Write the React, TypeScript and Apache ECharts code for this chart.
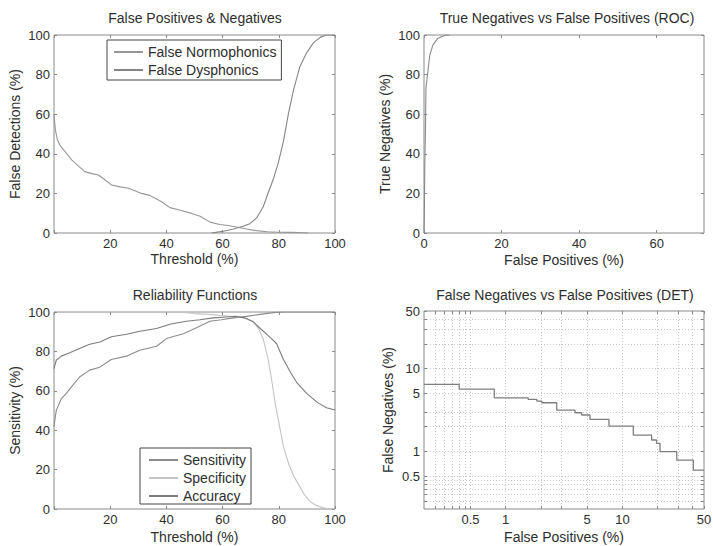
import React, { useEffect, useRef } from 'react';
import * as echarts from 'echarts';

// ---------- Data ----------
// Top-left: False Positives & Negatives vs threshold
const thrFN = [0, 0.5, 1.2, 2.1, 4, 6.3, 8.5, 11, 13.5, 15.8, 18, 20.5, 23.5, 26.5, 31.2, 34, 36, 38.3, 40, 41.3, 45, 49, 52, 55.5, 59, 62, 65, 68.5, 72, 76, 80, 85, 90.5];
const falseNormophonics = [60, 52, 47, 44.4, 41, 36.9, 34, 31, 30, 29.3, 27, 24.2, 23.3, 22.6, 20, 19, 17.5, 15.8, 14, 12.8, 11.5, 9.9, 8.5, 5.5, 4.3, 3.8, 3, 2, 1.2, 0.6, 0.4, 0.3, 0];
const thrFD = [56, 60, 63.8, 67.3, 69.7, 72.1, 74.5, 76.2, 78, 79.8, 81.6, 83.4, 85.2, 87.5, 89.9, 92.3, 94.7, 97, 100];
const falseDysphonics = [0, 0.8, 2, 3.4, 4.7, 7.6, 13.4, 20.2, 27, 35.3, 46, 60, 72, 84, 91, 96, 98.8, 100, 100];

// Top-right: ROC
const rocFP = [0, 0.1, 0.2, 0.4, 0.5, 1.0, 1.5, 2.3, 3.6, 5.3, 6.6];
const rocTN = [0, 10, 33, 55, 73, 81.5, 90, 95, 98.4, 99.8, 100];

// Bottom-left: Reliability functions
const thrSens = [0, 0.8, 2.6, 4.4, 6.2, 9.1, 12.7, 16.3, 20.4, 25.8, 30.5, 36.5, 40, 46, 50.7, 55.5, 59.6, 63.8, 68.5, 73.3, 78, 82, 100];
const sensitivity = [41.8, 50, 56, 58.7, 62, 67, 70.5, 72, 75.9, 77.6, 80.6, 82.6, 86.5, 89, 92, 95.3, 96.1, 97, 97.8, 98.8, 99.7, 100, 100];
const thrSpec = [44, 50, 55, 60, 65, 68.5, 71, 73, 74.5, 76, 77.3, 78.8, 80, 81.6, 83.5, 85.2, 87, 89, 91, 93, 95.5, 98, 100];
const specificity = [100, 99.2, 98.8, 98.2, 97.5, 96.8, 95, 91, 86, 77.5, 67, 53, 44, 32, 23, 17, 12.5, 7.5, 4, 2, 0.7, 0, 0];
const thrAcc = [0, 0.8, 2.6, 5.6, 9.1, 12.7, 16.3, 20.4, 25.8, 30.5, 36.5, 41.2, 47.1, 51.9, 56.7, 61.4, 64.5, 67.9, 70.9, 73.5, 77, 79.2, 81.6, 84.3, 86.5, 89.9, 93.8, 97, 100];
const accuracy = [71.3, 75.5, 77.6, 79.3, 81.5, 83.6, 84.8, 87.4, 88.7, 90.2, 91.6, 93.8, 95.3, 96.1, 97, 97.5, 97.8, 97, 95, 91.5, 87, 84, 76, 69, 64, 58.7, 54, 51.4, 50.3];

// Bottom-right: DET (step curve)
const detFP = [0.2, 0.4, 0.8, 1.56, 1.85, 2.04, 2.74, 3.93, 4.48, 5.28, 7.67, 12.4, 17.8, 19.6, 21.0, 29.2, 40.5, 50];
const detFN = [6.47, 5.66, 4.44, 4.26, 4.06, 3.87, 3.16, 2.93, 2.75, 2.44, 2.02, 1.57, 1.37, 1.25, 0.99, 0.78, 0.59, 0.59];

// Tick labels
const linTicks = [0, 20, 40, 60, 80, 100];
const thrLabels = [20, 40, 60, 80, 100];
const rocXTicks = [0, 20, 40, 60];
const detLabels = [0.5, 1, 5, 10, 50];
const detGridVals = [0.25, 0.3, 0.35, 0.4, 0.45, 0.5, 1, 2, 3, 5, 10, 20, 30, 40, 50];

// ---------- Styles ----------
const FONT = "'Liberation Sans', Arial, Helvetica, sans-serif";
const TEXT = '#2e2e2e';
const FRAME = '#8a8a8a';

const zip = (xs: number[], ys: number[]) => xs.map((x, i) => [x, ys[i]]);
const lg = (v: number) => Math.log10(v);

const nameStyle = { fontSize: 14, color: TEXT, fontFamily: FONT };
const labelStyle = { color: TEXT, fontSize: 13, fontFamily: FONT, margin: 4 };

function axis(
  kind: 'x' | 'y',
  gridIndex: number,
  mirror: boolean,
  min: number,
  max: number,
  ticks: number[],
  labels: number[] | null,
  name: string,
  nameGap: number,
  formatter?: (v: number) => string,
  grid?: boolean
) {
  const position = kind === 'x' ? (mirror ? 'top' : 'bottom') : (mirror ? 'right' : 'left');
  const a: any = {
    type: 'value',
    gridIndex,
    position,
    min,
    max,
    axisLine: { show: false, onZero: false },
    axisTick: { show: true, inside: true, length: 3, customValues: ticks, lineStyle: { color: FRAME, width: 1 } },
    axisLabel: mirror || !labels
      ? { show: false }
      : { show: true, customValues: labels, ...labelStyle, ...(formatter ? { formatter } : {}) },
    splitLine: grid && !mirror
      ? { show: true, lineStyle: { color: '#c6c6c6', width: 1, type: [1, 2] } }
      : { show: false },
    nameMoveOverlap: false,
  };
  if (!mirror && name) {
    a.name = name;
    a.nameLocation = 'middle';
    a.nameGap = nameGap;
    a.nameTextStyle = nameStyle;
  }
  return a;
}

const detFmt = (v: number) => String(Number(Math.pow(10, v).toPrecision(2)));

const grids = [
  { left: 54, top: 35, width: 281, height: 198 },
  { left: 424, top: 35, width: 280, height: 198 },
  { left: 54, top: 312, width: 281, height: 197 },
  { left: 424, top: 311, width: 280, height: 198 },
].map((g) => ({ ...g, show: true, borderColor: FRAME, borderWidth: 1, backgroundColor: 'transparent', containLabel: false, outerBoundsMode: 'none' }));

const detMin = lg(0.2);
const detMax = lg(50);
const detTicks = detGridVals.map(lg);
const detLab = detLabels.map(lg);

const xAxes = [
  axis('x', 0, false, 0, 100, linTicks, thrLabels, 'Threshold (%)', 19),
  axis('x', 1, false, 0, 72.2, rocXTicks, rocXTicks, 'False Positives (%)', 20),
  axis('x', 2, false, 0, 100, linTicks, thrLabels, 'Threshold (%)', 21),
  axis('x', 3, false, detMin, detMax, detTicks, detLab, 'False Positives (%)', 21, detFmt, true),
  axis('x', 0, true, 0, 100, linTicks, null, '', 0),
  axis('x', 1, true, 0, 72.2, rocXTicks, null, '', 0),
  axis('x', 2, true, 0, 100, linTicks, null, '', 0),
  axis('x', 3, true, detMin, detMax, detTicks, null, '', 0),
];
const yAxes = [
  axis('y', 0, false, 0, 100, linTicks, linTicks, 'False Detections (%)', 32),
  axis('y', 1, false, 0, 100, linTicks, linTicks, 'True Negatives (%)', 32),
  axis('y', 2, false, 0, 100, linTicks, linTicks, 'Sensitivity (%)', 32),
  axis('y', 3, false, detMin, detMax, detTicks, detLab, 'False Negatives (%)', 29, detFmt, true),
  axis('y', 0, true, 0, 100, linTicks, null, '', 0),
  axis('y', 1, true, 0, 100, linTicks, null, '', 0),
  axis('y', 2, true, 0, 100, linTicks, null, '', 0),
  axis('y', 3, true, detMin, detMax, detTicks, null, '', 0),
];

const titleStyle = { fontSize: 14, fontWeight: 'normal', color: TEXT, fontFamily: FONT };
const titles = [
  { text: 'False Positives & Negatives', left: 195, top: 11 },
  { text: 'True Negatives vs False Positives (ROC)', left: 567, top: 11 },
  { text: 'Reliability Functions', left: 195, top: 288 },
  { text: 'False Negatives vs False Positives (DET)', left: 565, top: 288 },
].map((t) => ({ ...t, textAlign: 'center', padding: 0, textStyle: titleStyle }));

const legendCommon = {
  orient: 'vertical',
  itemWidth: 29,
  itemHeight: 14,
  itemGap: 4,
  borderColor: '#444',
  borderWidth: 1,
  borderRadius: 0,
  backgroundColor: '#ffffff',
  selectedMode: false,
  itemStyle: { opacity: 0 },
  textStyle: { fontSize: 14, color: TEXT, fontFamily: FONT },
};

const line = (name: string, xi: number, data: number[][], color: string, width = 1, extra: any = {}) => ({
  type: 'line',
  name,
  xAxisIndex: xi,
  yAxisIndex: xi,
  data,
  symbol: 'none',
  showSymbol: false,
  silent: true,
  lineStyle: { color, width },
  itemStyle: { color },
  ...extra,
});

const option: any = {
  animation: false,
  backgroundColor: '#ffffff',
  title: titles,
  grid: grids,
  xAxis: xAxes,
  yAxis: yAxes,
  legend: [
    { ...legendCommon, left: 107, top: 40, padding: [5, 5, 3, 6], data: ['False Normophonics', 'False Dysphonics'] },
    { ...legendCommon, left: 140, top: 448, padding: [5, 5, 1, 8], data: ['Sensitivity', 'Specificity', 'Accuracy'] },
  ],
  series: [
    line('False Normophonics', 0, zip(thrFN, falseNormophonics), '#979797', 1.1),
    line('False Dysphonics', 0, zip(thrFD, falseDysphonics), '#858585', 1.1),
    line('ROC', 1, zip(rocFP, rocTN), '#8a8a8a', 1.1),
    line('Sensitivity', 2, zip(thrSens, sensitivity), '#8c8c8c', 1.1),
    line('Specificity', 2, zip(thrSpec, specificity), '#c4c4c4', 1.1),
    line('Accuracy', 2, zip(thrAcc, accuracy), '#7c7c7c', 1.1),
    line('DET', 3, zip(detFP.map(lg), detFN.map(lg)), '#7f7f7f', 1.3, { step: 'end' }),
  ],
};

export default function App() {
  const ref = useRef<HTMLDivElement>(null);
  useEffect(() => {
    if (!ref.current) return;
    const chart = echarts.init(ref.current, undefined, { renderer: 'svg' });
    chart.setOption(option);
    return () => chart.dispose();
  }, []);
  return (
    <div
      ref={ref}
      style={{ position: 'fixed', left: 0, top: 0, width: 713, height: 546, background: '#ffffff' }}
    />
  );
}
